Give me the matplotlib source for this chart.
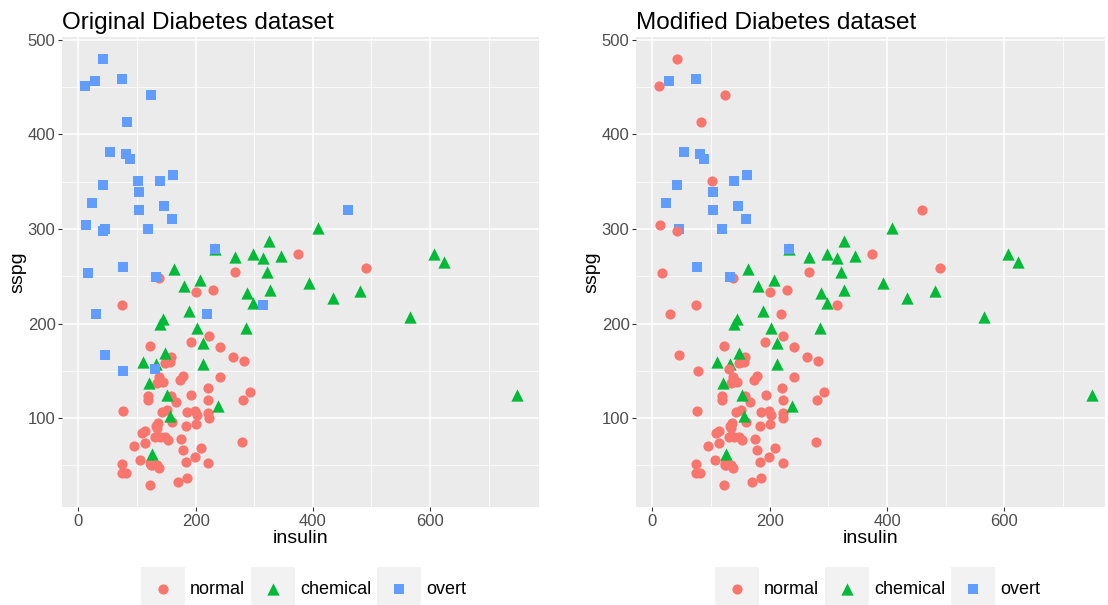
import numpy as np
import matplotlib
matplotlib.use("Agg")
import matplotlib.pyplot as plt
from matplotlib.patches import Rectangle

plt.rcParams['font.family'] = ['Liberation Sans', 'DejaVu Sans']

# values
normal_insulin = [375, 267, 138, 200, 229, 74, 223, 192, 122, 242, 263, 282, 158, 157, 147, 179,
                  173, 241, 137, 145, 134, 221, 292, 193, 158, 119, 118, 166, 222, 281, 76, 142,
                  151, 186, 199, 202, 222, 223, 159, 136, 132, 184, 201, 114, 109, 130, 140, 148,
                  153, 113, 175, 279, 95, 179, 209, 106, 199, 183, 222, 123, 74, 134, 137, 124,
                  74, 82, 185, 170, 122, 491, 134, 126]
normal_sspg = [274, 255, 248, 233, 236, 220, 187, 180, 176, 175, 165, 160, 165, 159, 158, 145,
               140, 143, 143, 138, 137, 132, 128, 124, 123, 123, 119, 117, 119, 119, 108, 106,
               109, 106, 108, 103, 105, 100, 96, 95, 92, 92, 94, 86, 84, 80, 80, 80,
               77, 74, 78, 75, 71, 66, 68, 56, 59, 54, 53, 53, 52, 50, 47, 50,
               42, 42, 37, 32, 29, 259, 90, 51]

chemical_insulin = [409, 326, 233, 267, 298, 315, 345, 607, 623, 163, 321, 208, 180, 393, 327, 481,
                    434, 288, 298, 188, 565, 144, 140, 202, 286, 213, 148, 213, 110, 133, 121, 152,
                    749, 238, 156, 126]
chemical_sspg = [301, 287, 279, 270, 273, 269, 271, 273, 265, 258, 254, 246, 240, 243, 236, 234,
                 227, 232, 222, 213, 207, 205, 200, 195, 195, 179, 169, 157, 159, 157, 137, 124,
                 124, 113, 102, 62]

overt_insulin = [42, 11, 28, 75, 124, 83, 54, 81, 88, 162, 101, 140, 42, 104, 24, 146, 104,
                 460, 160, 13, 118, 46, 42, 233, 76, 133, 16, 315, 30, 220, 45, 77, 130]
overt_sspg = [480, 451, 456, 458, 442, 413, 381, 379, 374, 357, 351, 351, 346, 339, 327, 324, 320,
              320, 310, 304, 300, 300, 298, 279, 260, 249, 253, 220, 210, 210, 167, 150, 152]
# class of the overt rows in the modified dataset
overt_modified = ['normal', 'normal', 'overt', 'overt', 'normal', 'normal', 'overt', 'overt',
                  'overt', 'overt', 'normal', 'overt', 'overt', 'overt', 'overt', 'overt', 'overt',
                  'normal', 'overt', 'normal', 'overt', 'overt', 'normal', 'overt', 'overt',
                  'overt', 'normal', 'normal', 'normal', 'normal', 'normal', 'normal', 'normal']

classes = ['normal', 'chemical', 'overt']
colors = {'normal': '#F8766D', 'chemical': '#00BA38', 'overt': '#619CFF'}
markers = {'normal': 'o', 'chemical': '^', 'overt': 's'}
sizes = {'normal': 54, 'chemical': 78, 'overt': 62}

W, H = 1108, 605
fig = plt.figure(figsize=(W / 100, H / 100), dpi=100)


def px_axes(x0, x1, y0, y1):
    return fig.add_axes([x0 / W, 1 - y1 / H, (x1 - x0) / W, (y1 - y0) / H])


def style(ax, title, xmax):
    ax.set_facecolor('#EBEBEB')
    ax.set_xlim(-27, xmax)
    ax.set_ylim(6.5, 502.5)
    ax.set_xticks([0, 200, 400, 600])
    ax.set_yticks([100, 200, 300, 400, 500])
    ax.set_xticks([100, 300, 500, 700], minor=True)
    ax.set_yticks([50, 150, 250, 350, 450], minor=True)
    ax.grid(which='major', color='white', lw=1.1)
    ax.grid(which='minor', color='white', lw=0.55)
    ax.set_axisbelow(True)
    for s in ax.spines.values():
        s.set_visible(False)
    ax.tick_params(which='major', length=3, width=0.8, color='#333333',
                   labelsize=12, labelcolor='#4D4D4D', pad=2)
    ax.tick_params(which='minor', length=0)
    ax.set_xlabel('insulin', fontsize=14, labelpad=1)
    ax.set_ylabel('sspg', fontsize=14, labelpad=1)
    ax.set_title(title, loc='left', fontsize=17.5, pad=6)


def pts(ax, x, y, cls):
    ax.scatter(x, y, s=sizes[cls], c=colors[cls], marker=markers[cls],
               linewidths=0, zorder=3)


# left panel: original data
ax1 = px_axes(62.5, 538.5, 37.4, 506.6)
pts(ax1, normal_insulin, normal_sspg, 'normal')
pts(ax1, chemical_insulin, chemical_sspg, 'chemical')
pts(ax1, overt_insulin, overt_sspg, 'overt')
style(ax1, 'Original Diabetes dataset', 785)

# right panel: modified data
ax2 = px_axes(636.5, 1105, 37.4, 506.6)
pts(ax2, normal_insulin, normal_sspg, 'normal')
pts(ax2, chemical_insulin, chemical_sspg, 'chemical')
mod = np.array(overt_modified)
ox = np.array(overt_insulin)
oy = np.array(overt_sspg)
pts(ax2, ox[mod == 'overt'], oy[mod == 'overt'], 'overt')
pts(ax2, ox[mod == 'normal'], oy[mod == 'normal'], 'normal')
style(ax2, 'Modified Diabetes dataset', -27 + (1105 - 636.5) / 0.5867)

# legends under each panel
lg = fig.add_axes([0, 0, 1, 1], zorder=-1)
lg.set_xlim(0, W)
lg.set_ylim(H, 0)
lg.axis('off')
key_x = [141, 251, 377]
for off in [0, 574]:
    for kx, cls in zip(key_x, classes):
        lg.add_patch(Rectangle((kx + off, 567), 44, 44, facecolor='#F2F2F2', edgecolor='none'))
        lg.scatter([kx + off + 22], [589], s=sizes[cls], c=colors[cls],
                   marker=markers[cls], linewidths=0)
        lg.text(kx + off + 49, 589, cls, fontsize=13, va='center', ha='left')

fig.savefig('out.png', dpi=100)
